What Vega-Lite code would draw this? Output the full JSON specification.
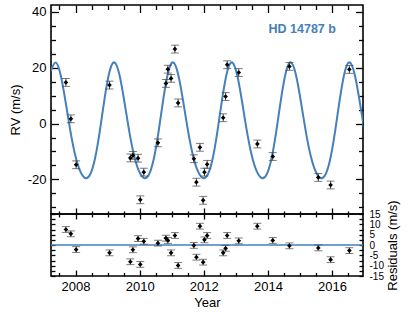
{
  "$schema": "https://vega.github.io/schema/vega-lite/v6.json",
  "padding": {"left": 8, "top": 3, "right": 5, "bottom": 5},
  "background": "white",
  "spacing": 0,
  "bounds": "flush",
  "config": {
    "view": {"stroke": "black", "strokeWidth": 1.6},
    "font": "Liberation Sans",
    "axis": {"grid": false, "domain": false, "tickColor": "black", "tickWidth": 1.3, "labelFont": "Liberation Sans", "labelFontSize": 13, "labelColor": "black", "titleFont": "Liberation Sans", "titleFontSize": 13, "titleFontWeight": "normal", "titleColor": "black", "labelOverlap": false, "labelFlush": false}
  },
  "datasets": {
    "model": [
      {"t": 2007.229, "v": 18.79}, {"t": 2007.382, "v": 21.90}, {"t": 2007.535, "v": 17.52}, {"t": 2007.688, "v": 8.01},
      {"t": 2007.841, "v": -2.68}, {"t": 2007.994, "v": -11.43}, {"t": 2008.146, "v": -17.07}, {"t": 2008.299, "v": -19.50},
      {"t": 2008.452, "v": -18.33}, {"t": 2008.605, "v": -12.69}, {"t": 2008.758, "v": -2.68}, {"t": 2008.911, "v": 9.27},
      {"t": 2009.064, "v": 18.79}, {"t": 2009.217, "v": 21.90}, {"t": 2009.370, "v": 17.52}, {"t": 2009.522, "v": 8.01},
      {"t": 2009.675, "v": -2.68}, {"t": 2009.828, "v": -11.43}, {"t": 2009.981, "v": -17.07}, {"t": 2010.134, "v": -19.50},
      {"t": 2010.287, "v": -18.33}, {"t": 2010.440, "v": -12.69}, {"t": 2010.593, "v": -2.68}, {"t": 2010.745, "v": 9.27},
      {"t": 2010.898, "v": 18.79}, {"t": 2011.051, "v": 21.90}, {"t": 2011.204, "v": 17.52}, {"t": 2011.357, "v": 8.01},
      {"t": 2011.510, "v": -2.68}, {"t": 2011.663, "v": -11.43}, {"t": 2011.816, "v": -17.07}, {"t": 2011.969, "v": -19.50},
      {"t": 2012.121, "v": -18.33}, {"t": 2012.274, "v": -12.69}, {"t": 2012.427, "v": -2.68}, {"t": 2012.580, "v": 9.27},
      {"t": 2012.733, "v": 18.79}, {"t": 2012.886, "v": 21.90}, {"t": 2013.039, "v": 17.52}, {"t": 2013.192, "v": 8.01},
      {"t": 2013.344, "v": -2.68}, {"t": 2013.497, "v": -11.43}, {"t": 2013.650, "v": -17.07}, {"t": 2013.803, "v": -19.50},
      {"t": 2013.956, "v": -18.33}, {"t": 2014.109, "v": -12.69}, {"t": 2014.262, "v": -2.68}, {"t": 2014.415, "v": 9.27},
      {"t": 2014.568, "v": 18.79}, {"t": 2014.720, "v": 21.90}, {"t": 2014.873, "v": 17.52}, {"t": 2015.026, "v": 8.01},
      {"t": 2015.179, "v": -2.68}, {"t": 2015.332, "v": -11.43}, {"t": 2015.485, "v": -17.07}, {"t": 2015.638, "v": -19.50},
      {"t": 2015.791, "v": -18.33}, {"t": 2015.944, "v": -12.69}, {"t": 2016.096, "v": -2.68}, {"t": 2016.249, "v": 9.27},
      {"t": 2016.402, "v": 18.79}, {"t": 2016.555, "v": 21.90}, {"t": 2016.708, "v": 17.52}, {"t": 2016.861, "v": 8.01},
      {"t": 2017.014, "v": -2.68}, {"t": 2017.167, "v": -11.43}
    ],
    "obs": [
      {"t": 2007.70, "rv": 14.75, "res": 7.5, "err": 1.4},
      {"t": 2007.855, "rv": 1.7, "res": 5.4, "err": 1.4},
      {"t": 2008.02, "rv": -14.75, "res": -2.2, "err": 1.4},
      {"t": 2009.06, "rv": 13.8, "res": -3.8, "err": 1.4},
      {"t": 2009.71, "rv": -12.3, "res": -8.1, "err": 1.4},
      {"t": 2009.79, "rv": -11.4, "res": -2.3, "err": 1.4},
      {"t": 2009.95, "rv": -12.4, "res": 3.1, "err": 1.4},
      {"t": 2010.02, "rv": -27.3, "res": -9.4, "err": 1.4},
      {"t": 2010.13, "rv": -17.4, "res": 1.8, "err": 1.4},
      {"t": 2010.57, "rv": -6.9, "res": 0.9, "err": 1.4},
      {"t": 2010.82, "rv": 14.4, "res": 3.3, "err": 1.4},
      {"t": 2010.88, "rv": 19.5, "res": 2.2, "err": 1.4},
      {"t": 2010.98, "rv": 16.2, "res": -3.8, "err": 1.4},
      {"t": 2011.10, "rv": 26.7, "res": 4.6, "err": 1.4},
      {"t": 2011.20, "rv": 7.4, "res": -9.9, "err": 1.4},
      {"t": 2011.69, "rv": -12.6, "res": -0.2, "err": 1.4},
      {"t": 2011.77, "rv": -21.0, "res": -5.9, "err": 1.4},
      {"t": 2011.88, "rv": -8.5, "res": 9.1, "err": 1.4},
      {"t": 2011.98, "rv": -27.5, "res": -8.3, "err": 1.4},
      {"t": 2012.02, "rv": -17.4, "res": 2.5, "err": 1.4},
      {"t": 2012.105, "rv": -14.6, "res": 4.6, "err": 1.4},
      {"t": 2012.605, "rv": 2.1, "res": -3.8, "err": 1.4},
      {"t": 2012.68, "rv": 9.7, "res": -1.6, "err": 1.4},
      {"t": 2012.73, "rv": 21.1, "res": 4.6, "err": 1.4},
      {"t": 2013.09, "rv": 18.3, "res": 2.0, "err": 1.4},
      {"t": 2013.67, "rv": -7.3, "res": 9.1, "err": 1.4},
      {"t": 2014.15, "rv": -11.8, "res": 2.2, "err": 1.4},
      {"t": 2014.67, "rv": 20.5, "res": -0.4, "err": 1.4},
      {"t": 2015.57, "rv": -19.3, "res": -1.4, "err": 1.4},
      {"t": 2015.955, "rv": -22.0, "res": -7.1, "err": 1.4},
      {"t": 2016.54, "rv": 19.4, "res": -2.7, "err": 1.4}
    ]
  },
  "vconcat": [
    {
      "width": 312,
      "height": 209,
      "resolve": {"axis": {"x": "independent", "y": "independent"}},
      "layer": [
        {
          "data": {"name": "model"},
          "mark": {"type": "line", "color": "#4580ba", "strokeWidth": 2, "interpolate": "natural", "clip": true},
          "encoding": {
            "x": {"field": "t", "type": "quantitative", "scale": {"domain": [2007.236, 2016.965], "nice": false, "zero": false},
              "axis": {"orient": "bottom", "values": [2008, 2010, 2012, 2014, 2016], "labels": false, "offset": -6, "tickSize": 11, "title": null}},
            "y": {"field": "v", "type": "quantitative", "scale": {"domain": [-32.4, 42.5], "nice": false, "zero": false},
              "axis": {"orient": "left", "values": [-20, 0, 20, 40], "offset": -7.5, "tickSize": 7.5, "labelPadding": 5, "labelExpr": "'' + datum.value", "title": "RV (m/s)", "titlePadding": 5}}
          }
        },
        {
          "data": {"name": "obs"},
          "mark": {"type": "errorbar", "ticks": true, "size": 8, "thickness": 1, "color": "#444444"},
          "encoding": {
            "x": {"field": "t", "type": "quantitative",
              "axis": {"orient": "bottom", "values": [2007.5, 2008.5, 2009, 2009.5, 2010.5, 2011, 2011.5, 2012.5, 2013, 2013.5, 2014.5, 2015, 2015.5, 2016.5], "labels": false, "offset": -3, "tickSize": 6, "title": null}},
            "y": {"field": "rv", "type": "quantitative",
              "axis": {"orient": "left", "values": [-30, -25, -15, -10, -5, 5, 10, 15, 25, 30, 35], "labels": false, "offset": -4.5, "tickSize": 4.5, "title": null}},
            "yError": {"field": "err"}
          }
        },
        {
          "data": {"name": "obs"},
          "mark": {"type": "point", "shape": "diamond", "filled": true, "color": "black", "size": 22, "opacity": 1},
          "encoding": {
            "x": {"field": "t", "type": "quantitative",
              "axis": {"orient": "top", "values": [2008, 2010, 2012, 2014, 2016], "labels": false, "offset": -7.5, "tickSize": 7.5, "title": null}},
            "y": {"field": "rv", "type": "quantitative",
              "axis": {"orient": "right", "values": [-20, 0, 20, 40], "labels": false, "offset": -7.5, "tickSize": 7.5, "title": null}}
          }
        },
        {
          "data": {"values": [{"label": "HD 14787 b"}]},
          "mark": {"type": "text", "font": "Liberation Sans", "fontWeight": "bold", "fontSize": 12.5, "color": "#4580ba", "align": "center", "baseline": "middle"},
          "encoding": {
            "x": {"datum": 2015.07, "type": "quantitative",
              "axis": {"orient": "top", "values": [2007.5, 2008.5, 2009, 2009.5, 2010.5, 2011, 2011.5, 2012.5, 2013, 2013.5, 2014.5, 2015, 2015.5, 2016.5], "labels": false, "offset": -4.5, "tickSize": 4.5, "title": null}},
            "y": {"datum": 33.9, "type": "quantitative",
              "axis": {"orient": "right", "values": [-30, -25, -15, -10, -5, 5, 10, 15, 25, 30, 35], "labels": false, "offset": -4.5, "tickSize": 4.5, "title": null}},
            "text": {"field": "label"}
          }
        }
      ]
    },
    {
      "width": 312,
      "height": 62,
      "resolve": {"axis": {"x": "independent", "y": "independent"}},
      "layer": [
        {
          "data": {"values": [{"zero": 0}]},
          "mark": {"type": "rule", "color": "#4580ba", "strokeWidth": 1.6},
          "encoding": {
            "y": {"field": "zero", "type": "quantitative", "scale": {"domain": [-15, 15], "nice": false, "zero": false},
              "axis": {"orient": "right", "values": [-15, -12.5, -10, -7.5, -5, -2.5, 0, 2.5, 5, 7.5, 10, 12.5, 15], "offset": -4, "tickSize": 4, "labelPadding": 6, "labelFontSize": 10, "labelExpr": "datum.value % 5 === 0 ? '' + datum.value : ''", "title": "Residuals (m/s)", "titleAngle": 270, "titlePadding": 16}}
          }
        },
        {
          "data": {"name": "obs"},
          "mark": {"type": "errorbar", "ticks": true, "size": 8, "thickness": 1, "color": "#444444"},
          "encoding": {
            "x": {"field": "t", "type": "quantitative", "scale": {"domain": [2007.236, 2016.965], "nice": false, "zero": false},
              "axis": {"orient": "bottom", "values": [2008, 2010, 2012, 2014, 2016], "offset": -6, "tickSize": 6, "labelPadding": 4, "labelExpr": "'' + datum.value", "title": "Year", "titlePadding": 3}},
            "y": {"field": "res", "type": "quantitative", "scale": {"domain": [-15, 15], "nice": false, "zero": false},
              "axis": {"orient": "left", "values": [-15, -12.5, -10, -7.5, -5, -2.5, 0, 2.5, 5, 7.5, 10, 12.5, 15], "labels": false, "offset": -4, "tickSize": 4, "title": null}},
            "yError": {"field": "err"}
          }
        },
        {
          "data": {"name": "obs"},
          "mark": {"type": "point", "shape": "diamond", "filled": true, "color": "black", "size": 22, "opacity": 1},
          "encoding": {
            "x": {"field": "t", "type": "quantitative",
              "axis": {"orient": "bottom", "values": [2007.5, 2008.5, 2009, 2009.5, 2010.5, 2011, 2011.5, 2012.5, 2013, 2013.5, 2014.5, 2015, 2015.5, 2016.5], "labels": false, "offset": -3.5, "tickSize": 3.5, "title": null}},
            "y": {"field": "res", "type": "quantitative", "axis": null}
          }
        }
      ]
    }
  ]
}
